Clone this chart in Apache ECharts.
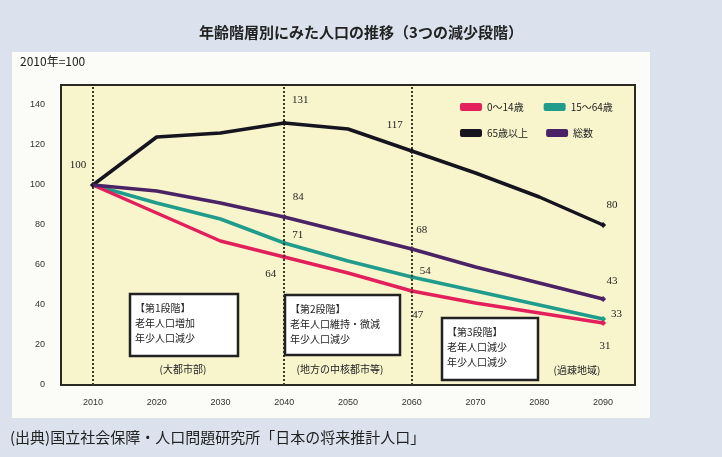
<!DOCTYPE html>
<html><head><meta charset="utf-8">
<script src="https://cdn.jsdelivr.net/npm/echarts@6/dist/echarts.min.js"></script>
<style>html,body{margin:0;padding:0;background:#dbe2ee;}#c{width:722px;height:457px;}</style>
</head><body><div id="c"></div>
<script>
const years = ['2010','2020','2030','2040','2050','2060','2070','2080','2090'];
const age0_14 = [100, 86, 72, 64, 56, 47, 41, 36, 31];
const age15_64 = [100, 91, 83, 71, 62, 54, 47, 40, 33];
const age65 = [100, 124, 126, 131, 128, 117, 106, 94, 80];
const total = [100, 97, 91, 84, 76, 68, 59, 51, 43];
const seriesNames = ['0～14歳', '15～64歳', '65歳以上', '総数'];
const yTicks = [0, 20, 40, 60, 80, 100, 120, 140];
const stageYears = ['2010', '2040', '2060'];
const stageTitles = ['【第1段階】', '【第2段階】', '【第3段階】'];
const stageLine1 = ['老年人口増加', '老年人口維持・微減', '老年人口減少'];
const stageLine2 = ['年少人口減少', '年少人口減少', '年少人口減少'];
const stageAreas = ['(大都市部)', '(地方の中核都市等)', '(過疎地域)'];

const JP = '"Noto Sans CJK JP", sans-serif';
const labFont = {color:'#1e1e1e', fontSize:11, fontFamily:'"Liberation Serif", serif'};

// label placement per series: index -> [position, offset]
const labelPos = {
  age65: {0:['top',[-15,-6]], 3:['top',[16,-9]], 5:['top',[-17,-12]], 8:['top',[9,-6]]},
  total: {3:['top',[14,-6]], 5:['top',[10,-5]], 8:['top',[9,-4]]},
  age15_64: {3:['right',[0,-8]], 5:['right',[0,-6]], 8:['right',[0,-5]]},
  age0_14: {3:['left',[0,17]], 5:['bottom',[6,11]], 8:['bottom',[2,10]]}
};
function build(vals, key){
  return vals.map((v,i)=>{
    const p = labelPos[key][i];
    if(!p) return {value:v, symbolSize:0};
    return {value:v, symbolSize:6, label:Object.assign({show:true, position:p[0], offset:p[1]}, labFont)};
  });
}
function mkSeries(name, vals, key, color, width, z){
  return {name, type:'line', data:build(vals,key), symbol:'diamond', showSymbol:true,
    lineStyle:{color, width}, itemStyle:{color}, z, animation:false,
    emphasis:{disabled:true}};
}
const series = [
  mkSeries(seriesNames[0], age0_14, 'age0_14', '#e3205c', 3.5, 4),
  mkSeries(seriesNames[1], age15_64, 'age15_64', '#1f9c8c', 3.5, 3),
  mkSeries(seriesNames[2], age65, 'age65', '#16141f', 3.5, 5),
  mkSeries(seriesNames[3], total, 'total', '#4a2366', 3.5, 6)
];
series[0].markLine = {silent:true, symbol:'none', label:{show:false},
  lineStyle:{color:'#3a3a2a', type:[2,2], width:2},
  data: stageYears.map(y=>({xAxis:y}))};

const boxes = [
  {x:130, y:294, w:108, h:62, cap:[183,369]},
  {x:285, y:295, w:115, h:60, cap:[340,369]},
  {x:442, y:318, w:96, h:62, cap:[577,370]}
];
const graphic = [
  {type:'rect', shape:{x:12, y:52, width:638, height:366}, style:{fill:'#fbfbf8'}, z:-10, silent:true},
  {type:'text', left:'center', top:25, style:{text:'年齢階層別にみた人口の推移（3つの減少段階）', font:'bold 15px '+JP, fill:'#222'}},
  {type:'text', left:20, top:55, style:{text:'2010年=100', font:'12px '+JP, fill:'#222'}},
  {type:'text', left:10, top:430, style:{text:'(出典)国立社会保障・人口問題研究所「日本の将来推計人口」', font:'15px '+JP, fill:'#222'}}
];
boxes.forEach((b,i)=>{
  graphic.push({type:'rect', shape:{x:b.x, y:b.y, width:b.w, height:b.h}, style:{fill:'#ffffff', stroke:'#222', lineWidth:2.5}, z:20});
  graphic.push({type:'text', x:b.x+5, y:b.y+7, z:21, style:{text:stageTitles[i]+'\n'+stageLine1[i]+'\n'+stageLine2[i], font:'10px '+JP, lineHeight:15, fill:'#222'}});
  graphic.push({type:'text', x:b.cap[0], y:b.cap[1], z:21, style:{text:stageAreas[i], font:'10px '+JP, fill:'#222', align:'center', verticalAlign:'middle'}});
});

const chart = echarts.init(document.getElementById('c'), null, {renderer:'canvas'});
chart.setOption({
  backgroundColor:'#dbe2ee',
  animation:false,
  grid:{left:61, right:87, top:85, bottom:72, show:true, backgroundColor:'#f8f5cc', borderColor:'#2a2a22', borderWidth:2},
  legend:[
    {data:[seriesNames[0], seriesNames[1]], left:455, top:97, itemWidth:22, itemHeight:8, itemGap:20,
      textStyle:{fontSize:10, fontFamily:JP, color:'#222'}, icon:'roundRect'},
    {data:[seriesNames[2], seriesNames[3]], left:455, top:123, itemWidth:22, itemHeight:8, itemGap:18,
      textStyle:{fontSize:10, fontFamily:JP, color:'#222'}, icon:'roundRect'}
  ],
  xAxis:{type:'category', data:years, boundaryGap:true,
    axisLine:{show:false}, axisTick:{show:false},
    axisLabel:{fontSize:9, color:'#333', margin:13, fontFamily:'"Liberation Sans", sans-serif'}},
  yAxis:{type:'value', min:0, max:150, interval:20,
    axisLine:{show:false}, axisTick:{show:false}, splitLine:{show:false},
    axisLabel:{fontSize:9, color:'#333', margin:16, showMaxLabel:false,
      formatter:v=> yTicks.includes(v) ? String(v) : '', fontFamily:'"Liberation Sans", sans-serif'}},
  series,
  graphic
});
</script></body></html>
